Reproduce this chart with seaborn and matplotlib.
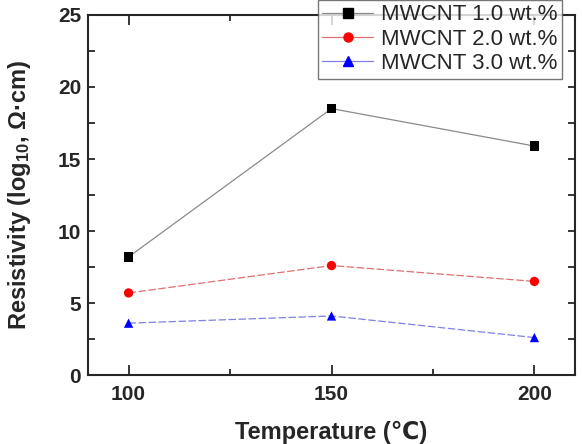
import matplotlib
matplotlib.use("Agg")
import matplotlib.pyplot as plt
import seaborn as sns
import pandas as pd
from matplotlib.lines import Line2D
from matplotlib.ticker import MultipleLocator

temps = [100, 150, 200]
series_names = ["MWCNT 1.0 wt.%", "MWCNT 2.0 wt.%", "MWCNT 3.0 wt.%"]
res_1 = [8.2, 18.5, 15.9]
res_2 = [5.7, 7.6, 6.5]
res_3 = [3.6, 4.1, 2.6]

sns.set_style("ticks")
plt.rcParams["font.family"] = ["Liberation Sans", "DejaVu Sans"]
plt.rcParams["mathtext.fontset"] = "custom"
plt.rcParams["mathtext.bf"] = "Liberation Sans:bold"
plt.rcParams["mathtext.rm"] = "Liberation Sans:bold"
plt.rcParams["mathtext.default"] = "bf"

rows = []
for name, vals in zip(series_names, [res_1, res_2, res_3]):
    for t, v in zip(temps, vals):
        rows.append({"T": t, "R": v, "series": name})
df = pd.DataFrame(rows)

line_colors = {series_names[0]: "#8a8a8a", series_names[1]: "#e07070", series_names[2]: "#8080e8"}
mark_colors = {series_names[0]: "black", series_names[1]: "red", series_names[2]: "blue"}
markers = {series_names[0]: "s", series_names[1]: "o", series_names[2]: "^"}
dashes = {series_names[0]: "", series_names[1]: (6, 2), series_names[2]: (6, 2)}

fig = plt.figure(figsize=(5.82, 4.44), dpi=100)
ax = fig.add_axes([88/582, 1 - 375/444, (575-88)/582, (375-15)/444])

sns.lineplot(data=df, x="T", y="R", hue="series", style="series", dashes=dashes,
             palette=line_colors, linewidth=0.9, ax=ax, legend=False)
sns.scatterplot(data=df, x="T", y="R", hue="series", style="series", markers=markers,
                palette=mark_colors, s=45, edgecolor="none", ax=ax, legend=False, zorder=3)

ax.set_xlim(90, 210)
ax.set_ylim(0, 25)
ax.xaxis.set_major_locator(MultipleLocator(50))
ax.xaxis.set_minor_locator(MultipleLocator(25))
ax.yaxis.set_major_locator(MultipleLocator(5))
ax.yaxis.set_minor_locator(MultipleLocator(2.5))
ax.tick_params(which="both", direction="in", top=True, right=True, width=1.3)
ax.tick_params(axis="x", which="major", length=7)
ax.tick_params(axis="x", which="minor", length=4)
ax.tick_params(axis="y", which="both", length=5)
ax.tick_params(which="major", labelsize=15)
ax.tick_params(axis="y", which="major", pad=5)
ax.tick_params(axis="x", which="major", pad=7)
for lab in ax.get_xticklabels() + ax.get_yticklabels():
    lab.set_fontweight("bold")
for sp in ax.spines.values():
    sp.set_linewidth(1.5)
    sp.set_visible(True)

ax.set_xlabel("Temperature (℃)", fontsize=17, fontweight="bold", labelpad=12)
ax.set_ylabel(r"Resistivity (log$_{10}$, Ω·cm)", fontsize=17, fontweight="bold", labelpad=18)

handles = []
for name in series_names:
    handles.append(Line2D([], [], color=line_colors[name], linewidth=0.9,
                          marker=markers[name], markerfacecolor=mark_colors[name],
                          markeredgecolor=mark_colors[name], markersize=6.5))
leg = ax.legend(handles, series_names, loc="upper right", bbox_to_anchor=(1.0 - 13/487, 1 + 15/360),
                fontsize=16, frameon=True, fancybox=False, edgecolor="#555555",
                handlelength=2.3, borderpad=0.2, labelspacing=0.15, handletextpad=0.35,
                borderaxespad=0)
leg.get_frame().set_linewidth(1.0)

fig.savefig("out.png", dpi=100)
